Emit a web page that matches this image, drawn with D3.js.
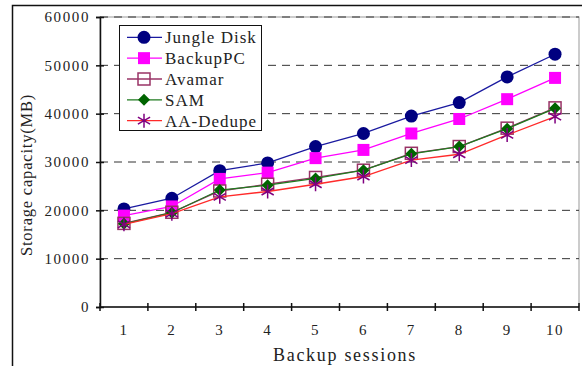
<!DOCTYPE html>
<html>
<head>
<meta charset="utf-8">
<script src="https://cdn.jsdelivr.net/npm/d3@7"></script>
<style>
  body { margin: 0; background: #fff; }
  text { font-family: "Liberation Serif", "DejaVu Serif", serif; fill: #222; }
</style>
</head>
<body>
<script>
// data
var sessions = ["1", "2", "3", "4", "5", "6", "7", "8", "9", "10"];
var yTicks = [0, 10000, 20000, 30000, 40000, 50000, 60000];
var seriesNames = ["Jungle Disk", "BackupPC", "Avamar", "SAM", "AA-Dedupe"];
var jungleDisk = [20300, 22500, 28200, 29800, 33200, 35900, 39500, 42300, 47600, 52300];
var backupPC = [18900, 20800, 26500, 27800, 30800, 32500, 35900, 38900, 43000, 47400];
var avamar = [17300, 19600, 24000, 25400, 26800, 28300, 31800, 33200, 37000, 41200];
var sam = [17200, 19500, 24200, 25200, 26600, 28300, 31700, 33200, 36900, 41100];
var aaDedupe = [17100, 19300, 22800, 23900, 25400, 27000, 30400, 31600, 35600, 39400];

var width = 582, height = 366;
var margin = {left: 100, top: 17, right: 3, bottom: 59};

var svg = d3.select("body").append("svg")
    .attr("width", width)
    .attr("height", height);

// outer frame
svg.append("rect")
    .attr("x", 12.5).attr("y", 5.5)
    .attr("width", 590).attr("height", 380)
    .attr("fill", "none").attr("stroke", "#111").attr("stroke-width", 1.5);

var x = d3.scaleBand()
    .domain(sessions)
    .range([margin.left, width - margin.right]);

var y = d3.scaleLinear()
    .domain([0, 60000])
    .range([height - margin.bottom, margin.top]);

var plot = svg.append("g");

// plot border (gray, top and right)
plot.append("rect")
    .attr("x", margin.left).attr("y", margin.top)
    .attr("width", width - margin.right - margin.left)
    .attr("height", height - margin.bottom - margin.top)
    .attr("fill", "none").attr("stroke", "#999").attr("stroke-width", 1);

// dashed gridlines
plot.append("g")
    .selectAll("line")
    .data(yTicks.filter(function (d) { return d > 0; }))
    .enter().append("line")
    .attr("x1", margin.left).attr("x2", width - margin.right)
    .attr("y1", function (d) { return y(d); })
    .attr("y2", function (d) { return y(d); })
    .attr("stroke", "#333")
    .attr("stroke-width", 1)
    .attr("stroke-dasharray", "8,6");

// y axis
var yAxis = svg.append("g")
    .attr("transform", "translate(" + margin.left + ",0)")
    .call(d3.axisLeft(y).tickValues(yTicks).tickSize(4).tickPadding(8).tickFormat(d3.format("d")));
yAxis.selectAll(".tick line").attr("x2", 4).attr("x1", -4).attr("stroke", "#111").attr("stroke-width", 1.5);
yAxis.select(".domain").attr("stroke", "#111").attr("stroke-width", 1.5);
yAxis.selectAll("text")
    .attr("x", -10)
    .style("font-family", "Liberation Serif")
    .style("font-size", "15px")
    .style("letter-spacing", "1.6px")
    .attr("fill", "#222");

// x axis: ticks on category boundaries
var xAxisG = svg.append("g")
    .attr("transform", "translate(0," + y(0) + ")");
xAxisG.append("line")
    .attr("x1", margin.left).attr("x2", width - margin.right)
    .attr("stroke", "#111").attr("stroke-width", 1.5);
xAxisG.selectAll(".bound")
    .data(sessions)
    .enter().append("line")
    .attr("class", "bound")
    .attr("x1", function (d) { return x(d) + x.bandwidth(); })
    .attr("x2", function (d) { return x(d) + x.bandwidth(); })
    .attr("y1", -4).attr("y2", 4)
    .attr("stroke", "#111").attr("stroke-width", 1.5);
xAxisG.append("line")
    .attr("x1", margin.left).attr("x2", margin.left)
    .attr("y1", -4).attr("y2", 4)
    .attr("stroke", "#111").attr("stroke-width", 1.5);
xAxisG.selectAll("text")
    .data(sessions)
    .enter().append("text")
    .attr("x", function (d) { return x(d) + x.bandwidth() / 2; })
    .attr("y", 28)
    .attr("text-anchor", "middle")
    .style("font-size", "15px")
    .style("letter-spacing", "1.5px")
    .text(function (d) { return d; });

// axis titles
svg.append("text")
    .attr("x", 345).attr("y", 361)
    .attr("text-anchor", "middle")
    .style("font-size", "18px")
    .style("letter-spacing", "1.7px")
    .text("Backup sessions");

svg.append("text")
    .attr("transform", "translate(32,175) rotate(-90)")
    .attr("text-anchor", "middle")
    .style("font-size", "16.5px")
    .style("letter-spacing", "0.8px")
    .text("Storage capacity(MB)");

var series = [
    {name: seriesNames[0], values: jungleDisk, line: "#1a1aa0", marker: "circle", fill: "#000080", stroke: "#000080"},
    {name: seriesNames[1], values: backupPC, line: "#ff00ff", marker: "square", fill: "#ff00ff", stroke: "#ff00ff"},
    {name: seriesNames[2], values: avamar, line: "#993366", marker: "osquare", fill: "none", stroke: "#993366"},
    {name: seriesNames[3], values: sam, line: "#1f7a1f", marker: "diamond", fill: "#006400", stroke: "#006400"},
    {name: seriesNames[4], values: aaDedupe, line: "#ff2a2a", marker: "star", fill: "none", stroke: "#800080"}
];

function drawMarker(g, s, cx, cy) {
    if (s.marker === "circle") {
        g.append("circle").attr("cx", cx).attr("cy", cy).attr("r", 6.5).attr("fill", s.fill);
    } else if (s.marker === "square") {
        g.append("rect").attr("x", cx - 6).attr("y", cy - 6).attr("width", 12).attr("height", 12).attr("fill", s.fill);
    } else if (s.marker === "osquare") {
        g.append("rect").attr("x", cx - 6).attr("y", cy - 6).attr("width", 12).attr("height", 12)
            .attr("fill", "none").attr("stroke", s.stroke).attr("stroke-width", 1.5);
    } else if (s.marker === "diamond") {
        g.append("path")
            .attr("d", "M" + cx + "," + (cy - 6) + "L" + (cx + 6) + "," + cy + "L" + cx + "," + (cy + 6) + "L" + (cx - 6) + "," + cy + "Z")
            .attr("fill", s.fill);
    } else if (s.marker === "star") {
        var r = 7;
        var d = "M" + cx + "," + (cy - r) + "V" + (cy + r);
        d += "M" + (cx - r * 0.87) + "," + (cy - r * 0.5) + "L" + (cx + r * 0.87) + "," + (cy + r * 0.5);
        d += "M" + (cx - r * 0.87) + "," + (cy + r * 0.5) + "L" + (cx + r * 0.87) + "," + (cy - r * 0.5);
        g.append("path").attr("d", d).attr("stroke", s.stroke).attr("stroke-width", 1.5).attr("fill", "none");
    }
}

var line = d3.line()
    .x(function (d, i) { return x(sessions[i]) + x.bandwidth() / 2; })
    .y(function (d) { return y(d); });

series.forEach(function (s) {
    var g = plot.append("g");
    g.append("path")
        .datum(s.values)
        .attr("d", line)
        .attr("fill", "none")
        .attr("stroke", s.line)
        .attr("stroke-width", 1.3);
    s.values.forEach(function (v, i) {
        drawMarker(g, s, x(sessions[i]) + x.bandwidth() / 2, y(v));
    });
});

// legend
var legend = svg.append("g");
legend.append("rect")
    .attr("x", 119.5).attr("y", 25.5)
    .attr("width", 142).attr("height", 105)
    .attr("fill", "#fff").attr("stroke", "#111").attr("stroke-width", 1);

series.forEach(function (s, i) {
    var ly = 37.3 + i * 20.85;
    var g = legend.append("g");
    g.append("line")
        .attr("x1", 127).attr("x2", 162)
        .attr("y1", ly).attr("y2", ly)
        .attr("stroke", s.line).attr("stroke-width", 1.3);
    drawMarker(g, s, 144, ly);
    g.append("text")
        .attr("x", 165).attr("y", ly + 6)
        .style("font-size", "17px")
        .style("letter-spacing", "1px")
        .text(s.name);
});
</script>
</body>
</html>
